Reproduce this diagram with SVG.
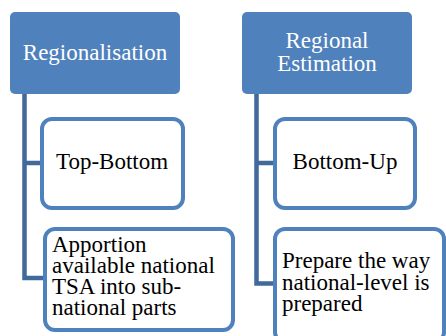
<svg xmlns="http://www.w3.org/2000/svg" width="446" height="336" viewBox="0 0 446 336">
<style>
.head{fill:#4F81BD;}
.child{fill:#FFFFFF;stroke:#4F81BD;stroke-width:4;}
.conn{fill:none;stroke:#41699A;stroke-width:4.5;}
.ht{fill:#FFFFFF;text-anchor:middle;}
.ct{fill:#000000;}
.mid{text-anchor:middle;}
</style>
<rect width="446" height="336" fill="#FFFFFF"/>
<g id="connectors">
<path class="conn" d="M24.5 94 V278 H45 M24.5 163 H42"/>
<path class="conn" d="M256.5 94 V283.5 H275 M256.5 163 H275"/>
</g>
<g font-family="Liberation Serif, Times New Roman, serif" font-size="23">
<g id="regionalisation">
<rect class="head" x="10" y="12" width="170" height="82" rx="5"/>
<text class="ht" x="95" y="60">Regionalisation</text>
</g>
<g id="regional-estimation">
<rect class="head" x="242" y="12" width="170" height="82" rx="5"/>
<text class="ht" x="327" y="48">Regional</text>
<text class="ht" x="327" y="71">Estimation</text>
</g>
<g id="top-bottom">
<rect class="child" x="42" y="119" width="141" height="89" rx="10"/>
<text class="ct mid" x="112" y="169">Top-Bottom</text>
</g>
<g id="apportion">
<rect class="child" x="45" y="229" width="188" height="101" rx="10"/>
<text class="ct" x="52" y="252">Apportion</text>
<text class="ct" x="52" y="273">available national</text>
<text class="ct" x="52" y="294">TSA into sub-</text>
<text class="ct" x="52" y="315">national parts</text>
</g>
<g id="bottom-up">
<rect class="child" x="275" y="119" width="140" height="89" rx="10"/>
<text class="ct mid" x="345" y="169">Bottom-Up</text>
</g>
<g id="prepare">
<rect class="child" x="275" y="229" width="169" height="113" rx="10"/>
<text class="ct" x="282" y="268">Prepare the way</text>
<text class="ct" x="282" y="290">national-level is</text>
<text class="ct" x="282" y="311">prepared</text>
</g>
</g>
</svg>
